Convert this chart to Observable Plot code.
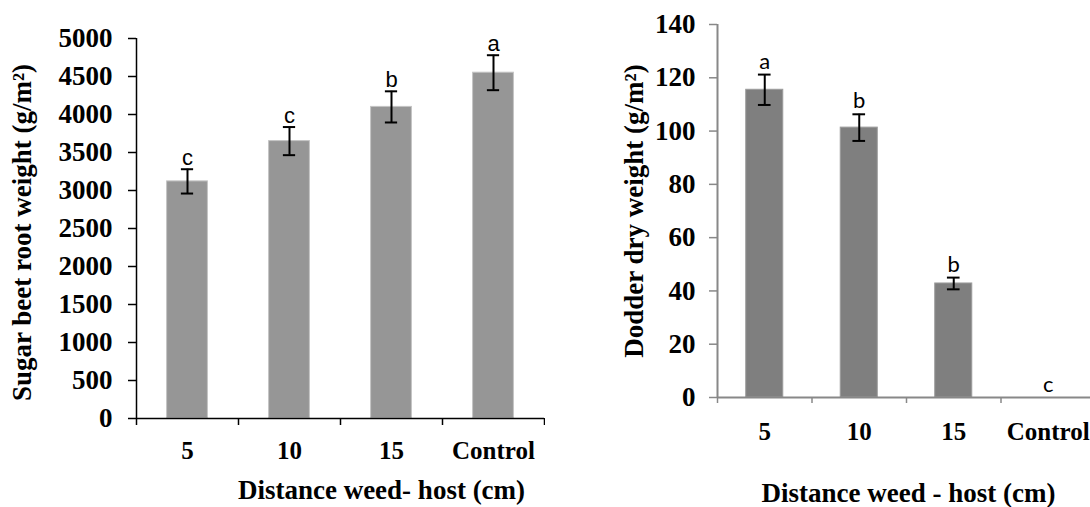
<!DOCTYPE html>
<html>
<head>
<meta charset="utf-8">
<script src="https://cdn.jsdelivr.net/npm/d3@7"></script>
<script src="https://cdn.jsdelivr.net/npm/@observablehq/plot@0.6"></script>
<style>
  html, body { margin: 0; padding: 0; background: white; overflow: hidden; }
  #wrap { position: relative; width: 1090px; height: 507px; overflow: hidden; }
  #left { position: absolute; left: 0; top: 0; width: 545px; height: 507px; }
  #right { position: absolute; left: 545px; top: 0; width: 560px; height: 507px; }
  #wrap svg { max-width: none !important; }
</style>
</head>
<body>
<div id="wrap"><div id="left"></div><div id="right"></div></div>
<script>
// ---- data ----
const categories = ["5", "10", "15", "Control"];
const rootWeight = [3120, 3650, 4100, 4550];
const rootError = [160, 185, 205, 230];
const rootLetters = ["c", "c", "b", "a"];
const rootTicks = [0, 500, 1000, 1500, 2000, 2500, 3000, 3500, 4000, 4500, 5000];

const dodderWeight = [115.5, 101.3, 42.8, 0];
const dodderError = [5.7, 5.0, 2.2, 0];
const dodderLetters = ["a", "b", "b", "c"];
const dodderTicks = [0, 20, 40, 60, 80, 100, 120, 140];

const leftXTitle = "Distance weed- host (cm)";
const leftYTitle = "Sugar beet root weight (g/m²)";
const rightXTitle = "Distance weed - host (cm)";
const rightYTitle = "Dodder dry weight (g/m²)";

const serif = "'Liberation Serif', 'Times New Roman', serif";
const bounds = categories.map((c, i) => i).concat([categories.length]);
const centers = categories.map((c, i) => i + 0.5);

function rows(values, errors, letters) {
  return categories.map((c, i) => ({i, c, v: values[i], e: errors[i], L: letters[i]}));
}

function chart(o) {
  const data = rows(o.values, o.errors, o.letters);
  const ymax = o.ticks[o.ticks.length - 1];
  return Plot.plot({
    width: o.width, height: 507,
    marginLeft: o.ml, marginRight: o.mr, marginTop: o.mt, marginBottom: o.mb,
    x: {domain: [0, categories.length], axis: null},
    y: {domain: [0, ymax], axis: null},
    style: {fontFamily: serif, background: "white", overflow: "visible", color: "black", maxWidth: "none"},
    marks: [
      Plot.rect(data, {x1: d => d.i + 0.5 - o.half, x2: d => d.i + 0.5 + o.half, y1: 0, y2: "v",
        fill: o.fill, stroke: o.barStroke, strokeWidth: 1}),
      Plot.ruleX(data.filter(d => d.e > 0), {x: d => d.i + 0.5, y1: d => d.v - d.e, y2: d => d.v + d.e, stroke: "black", strokeWidth: 2}),
      Plot.ruleY(data.filter(d => d.e > 0), {x1: d => d.i + 0.5 - o.cap, x2: d => d.i + 0.5 + o.cap, y: d => d.v + d.e, stroke: "black", strokeWidth: 2}),
      Plot.ruleY(data.filter(d => d.e > 0), {x1: d => d.i + 0.5 - o.cap, x2: d => d.i + 0.5 + o.cap, y: d => d.v - d.e, stroke: "black", strokeWidth: 2}),
      Plot.text(data, {x: d => d.i + 0.5, y: d => d.v + d.e, text: "L", dy: o.letterDy, lineAnchor: "bottom",
        fontFamily: o.letterFont, fontSize: 22, fill: "black"}),
      Plot.axisY({ticks: o.ticks, tickSize: 8, tickPadding: o.yPad, tickFormat: d => String(d), label: null,
        fontSize: o.yFont, fontWeight: "bold", stroke: o.axisColor, fill: "black", strokeWidth: 1.5}),
      Plot.ruleX([0], {y1: 0, y2: ymax, stroke: o.axisColor, strokeWidth: o.axisWidth}),
      Plot.ruleY([0], {x1: 0, x2: categories.length, stroke: o.axisColor, strokeWidth: o.axisWidth}),
      Plot.axisX({ticks: bounds, tickSize: o.xTick, tickFormat: () => "", label: null, stroke: o.axisColor, strokeWidth: 1.5}),
      Plot.axisX({ticks: centers, tickSize: 0, tickPadding: o.xPad, tickFormat: t => categories[Math.floor(t)], label: null,
        fontSize: o.xFont, fontWeight: "bold", fill: "black"}),
      Plot.text([o.xTitle], {text: d => d, frameAnchor: "bottom", textAnchor: "middle", dx: o.xtDx, dy: o.xtDy, lineAnchor: "middle",
        fontSize: 27, fontWeight: "bold", fill: "black"}),
      Plot.text([o.yTitle], {text: d => d, frameAnchor: "left", textAnchor: "middle", rotate: -90, dx: o.ytDx, dy: o.ytDy, lineAnchor: "middle",
        fontSize: 27, fontWeight: "bold", fill: "black"})
    ]
  });
}

document.getElementById("left").appendChild(chart({
  values: rootWeight, errors: rootError, letters: rootLetters, ticks: rootTicks,
  width: 545, ml: 136, mr: 1, mt: 38, mb: 89,
  half: 0.2, cap: 0.06, fill: "#969696", barStroke: "#c4c4c4",
  axisColor: "black", axisWidth: 1.5, xTick: 7, yPad: 16, yFont: 27,
  xPad: 23, xFont: 25, letterDy: -4, letterFont: "'Liberation Sans', Arial, sans-serif",
  xTitle: leftXTitle, yTitle: leftYTitle, xtDx: 41, xtDy: 72, ytDx: -114, ytDy: 4
}));

document.getElementById("right").appendChild(chart({
  values: dodderWeight, errors: dodderError, letters: dodderLetters, ticks: dodderTicks,
  width: 560, ml: 172, mr: 10, mt: 24, mb: 110,
  half: 0.196, cap: 0.067, fill: "#7f7f7f", barStroke: "#9c9c9c",
  axisColor: "#888888", axisWidth: 2, xTick: 6, yPad: 14, yFont: 27,
  xPad: 25, xFont: 25, letterDy: -6, letterFont: "Lato, 'Open Sans', sans-serif",
  xTitle: rightXTitle, yTitle: rightYTitle, xtDx: 2, xtDy: 96, ytDx: -83, ytDy: 0
}));
</script>
</body>
</html>
